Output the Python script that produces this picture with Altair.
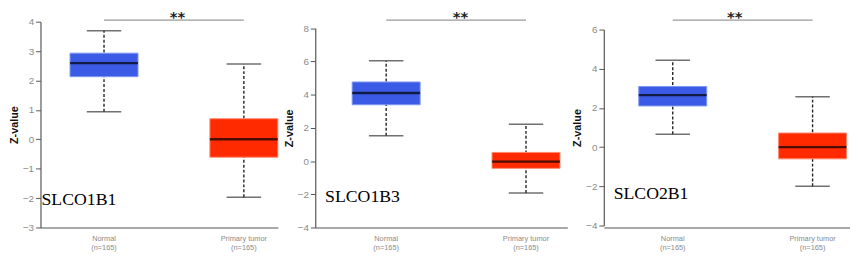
import altair as alt
import pandas as pd

genes = ["SLCO1B1", "SLCO1B3", "SLCO2B1"]
groups = ["Normal", "Primary tumor"]
n_samples = [165, 165]

# per gene: [Normal, Primary tumor]
whisker_low = {"SLCO1B1": [0.94, -1.97], "SLCO1B3": [1.53, -1.92], "SLCO2B1": [0.66, -2.0]}
q1 = {"SLCO1B1": [2.13, -0.61], "SLCO1B3": [3.39, -0.44], "SLCO2B1": [2.10, -0.60]}
median = {"SLCO1B1": [2.59, 0.0], "SLCO1B3": [4.10, -0.03], "SLCO2B1": [2.65, 0.0]}
q3 = {"SLCO1B1": [2.93, 0.70], "SLCO1B3": [4.76, 0.52], "SLCO2B1": [3.09, 0.72]}
whisker_high = {"SLCO1B1": [3.69, 2.56], "SLCO1B3": [6.04, 2.22], "SLCO2B1": [4.43, 2.57]}

y_domains = {"SLCO1B1": [-3, 4], "SLCO1B3": [-4, 8], "SLCO2B1": [-4, 6]}
y_ticks = {"SLCO1B1": [-3, -2, -1, 0, 1, 2, 3, 4],
           "SLCO1B3": [-4, -2, 0, 2, 4, 6, 8],
           "SLCO2B1": [-4, -2, 0, 2, 4, 6]}
significance = ["**", "**", "**"]

BLUE = "#3b5be6"
BLUE_EDGE = "#7d97f2"
RED = "#ff2a00"
RED_EDGE = "#ff8a6e"
AXIS = "#555555"
LABEL = "#8a8a8a"

H = 209
STEP = 142.0
PI = 0.6

layout = {
    # width, first band centre offset, y pixel range, gene label x / baseline, stars dx
    "SLCO1B1": dict(W=241, c1=64.5, yr=[209, 0], lab_x=1, lab_y=186, sdx=74.5),
    "SLCO1B3": dict(W=256, c1=72.0, yr=[209, 6.6], lab_x=10, lab_y=183, sdx=75.5),
    "SLCO2B1": dict(W=250, c1=70.0, yr=[207, 7.9], lab_x=10, lab_y=180, sdx=63),
}

n_expr = "{" + ", ".join(f"'{g}': '(n={n})'" for g, n in zip(groups, n_samples)) + "}"


def panel(gene, idx):
    L = layout[gene]
    W = L["W"]
    po = (W / STEP - (2 - PI)) / 2
    align = (L["c1"] - STEP * (1 - PI) / 2) / (W - STEP * (2 - PI))
    df = pd.DataFrame({
        "group": groups,
        "low": whisker_low[gene],
        "q1": q1[gene],
        "med": median[gene],
        "q3": q3[gene],
        "high": whisker_high[gene],
    })
    xscale = alt.Scale(domain=groups, paddingInner=PI, paddingOuter=po, align=align)
    x = alt.X("group:N", scale=xscale, sort=groups,
              axis=alt.Axis(title=None, labelAngle=0, ticks=False, labelPadding=7,
                            labelFontSize=7.5, labelColor=LABEL, labelFont="Liberation Sans",
                            labelLineHeight=9, domainColor=AXIS, domainWidth=1.2,
                            labelExpr=f"[datum.label, {n_expr}[datum.label]]"))
    yscale = alt.Scale(domain=y_domains[gene], range=L["yr"], nice=False, zero=False)
    yaxis = alt.Axis(title="Z-value", values=y_ticks[gene], tickCount=50, format="d",
                     grid=False, tickSize=5,
                     tickColor=AXIS, domainColor=AXIS, domainWidth=1.2, labelColor=LABEL,
                     labelFontSize=10, labelFont="Liberation Sans", labelPadding=2,
                     labelOverlap=False, labelFlush=False,
                     titleFont="Liberation Sans", titleFontSize=11, titleFontWeight="bold",
                     titleColor="#111", titlePadding=3)
    base = alt.Chart(df)
    color = alt.Color("group:N", scale=alt.Scale(domain=groups, range=[BLUE, RED]), legend=None)
    stroke = alt.Stroke("group:N", scale=alt.Scale(domain=groups, range=[BLUE_EDGE, RED_EDGE]), legend=None)

    whisk = base.mark_rule(color="#222", strokeDash=[3, 2], strokeWidth=1.4).encode(
        x=x, y=alt.Y("low:Q", scale=yscale, axis=yaxis), y2="high:Q")
    box = base.mark_bar(size=69, strokeWidth=1).encode(
        x=x, y=alt.Y("q1:Q"), y2="q3:Q", color=color, stroke=stroke)
    med = base.mark_tick(size=69, thickness=2.4, color="#000").encode(x=x, y="med:Q")
    cap_lo = base.mark_tick(size=35, thickness=1.5, color="#333").encode(x=x, y="low:Q")
    cap_hi = base.mark_tick(size=35, thickness=1.5, color="#333").encode(x=x, y="high:Q")

    sig_df = pd.DataFrame({"a": [groups[0]], "b": [groups[1]], "s": [significance[idx]], "g": [gene]})
    sig_line = alt.Chart(sig_df).mark_rule(color="#9a9a9a", strokeWidth=1.3).encode(
        x=alt.X("a:N", scale=xscale, sort=groups), x2="b:N", y=alt.value(-1.5))
    stars = alt.Chart(sig_df).mark_text(fontSize=15, fontWeight="bold", color="#222",
                                        font="DejaVu Sans", baseline="top",
                                        dx=L["sdx"]).encode(
        x=alt.X("a:N", scale=xscale, sort=groups), y=alt.value(-11.5), text="s:N")
    gene_lab = alt.Chart(sig_df).mark_text(fontSize=18, font="Liberation Serif", color="#000",
                                           align="left", baseline="alphabetic").encode(
        x=alt.value(L["lab_x"]), y=alt.value(L["lab_y"]), text="g:N")

    return alt.layer(whisk, box, med, cap_lo, cap_hi, sig_line, stars, gene_lab).properties(
        width=W, height=H)


chart = alt.hconcat(*[panel(g, i) for i, g in enumerate(genes)], spacing=4).configure_view(
    stroke=None).properties(padding={"left": 0, "top": 0, "right": 0, "bottom": 0},
                            background="white")

chart.save("out.html", embed_options={"renderer": "svg", "actions": False})
